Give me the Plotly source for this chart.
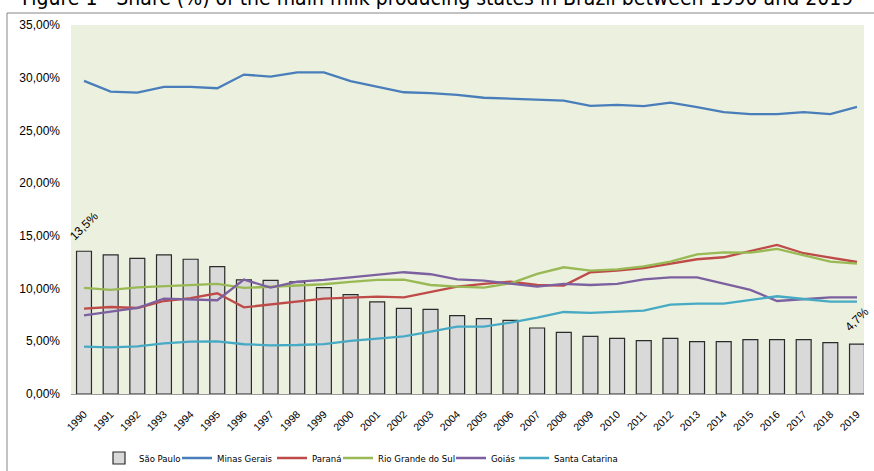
import plotly.graph_objects as go

years = list(range(1990, 2020))

sao_paulo = [13.54, 13.19, 12.87, 13.19, 12.78, 12.08, 10.82, 10.78, 10.63, 10.09,
             9.42, 8.73, 8.13, 8.03, 7.43, 7.15, 6.99, 6.26, 5.85, 5.47,
             5.28, 5.06, 5.28, 4.96, 4.96, 5.15, 5.15, 5.15, 4.87, 4.74]
minas_gerais = [29.70, 28.68, 28.59, 29.13, 29.13, 29.00, 30.30, 30.10, 30.50, 30.50,
                29.67, 29.15, 28.62, 28.53, 28.37, 28.10, 28.00, 27.90, 27.83, 27.32,
                27.42, 27.30, 27.64, 27.20, 26.73, 26.54, 26.54, 26.73, 26.54, 27.23]
parana = [8.10, 8.25, 8.16, 8.82, 9.10, 9.55, 8.22, 8.51, 8.79, 9.04,
          9.14, 9.24, 9.17, 9.71, 10.18, 10.44, 10.66, 10.34, 10.28, 11.55,
          11.70, 11.95, 12.36, 12.78, 12.97, 13.54, 14.14, 13.35, 12.90, 12.52]
rio_grande_do_sul = [10.06, 9.87, 10.12, 10.25, 10.34, 10.44, 10.06, 10.18, 10.28, 10.41,
                     10.63, 10.82, 10.85, 10.34, 10.18, 10.09, 10.50, 11.39, 12.02, 11.70,
                     11.83, 12.11, 12.55, 13.25, 13.44, 13.41, 13.76, 13.12, 12.55, 12.36]
goias = [7.46, 7.81, 8.16, 9.04, 8.98, 8.89, 10.85, 10.09, 10.66, 10.82,
         11.07, 11.32, 11.55, 11.36, 10.88, 10.75, 10.44, 10.18, 10.44, 10.34,
         10.44, 10.88, 11.07, 11.07, 10.47, 9.87, 8.82, 8.98, 9.17, 9.17]
santa_catarina = [4.49, 4.43, 4.52, 4.81, 4.96, 5.00, 4.72, 4.62, 4.65, 4.74,
                  5.03, 5.28, 5.47, 5.91, 6.39, 6.39, 6.77, 7.24, 7.78, 7.69,
                  7.78, 7.90, 8.47, 8.57, 8.57, 8.89, 9.27, 9.01, 8.76, 8.76]

y_ticks = [0, 5, 10, 15, 20, 25, 30, 35]
y_tick_labels = ["0,00%", "5,00%", "10,00%", "15,00%", "20,00%", "25,00%", "30,00%", "35,00%"]
labelled_years = [1990, 2019]

title_text = "Figure 1 - Share (%) of the main milk producing states in Brazil between 1990 and 2019"

line_series = [
    ("Minas Gerais", minas_gerais, "#4A7EBB"),
    ("Paraná", parana, "#BE4B48"),
    ("Rio Grande do Sul", rio_grande_do_sul, "#98B954"),
    ("Goiás", goias, "#7D60A0"),
    ("Santa Catarina", santa_catarina, "#46AAC5"),
]

# layout geometry (pixels)
W, H = 874, 471
PL, PR, PT, PB = 71, 864, 25, 394
pw, ph = PR - PL, PB - PT


def px_x(px):
    return (px - PL) / pw


def px_y(py):
    return (PB - py) / ph


NARROW = "Liberation Sans Narrow, DejaVu Sans Condensed, Liberation Sans"
legend_origins = [99, 177, 272, 338, 451, 514]
legend_keys = ["legend", "legend2", "legend3", "legend4", "legend5", "legend6"]

fig = go.Figure()
fig.add_trace(go.Bar(
    x=years, y=sao_paulo, name="São Paulo", width=0.56, legend=legend_keys[0],
    marker=dict(color="#D9D9D9", line=dict(color="#2b2b2b", width=1.2)),
))
for i, (name, vals, color) in enumerate(line_series):
    fig.add_trace(go.Scatter(
        x=years, y=vals, name=name, mode="lines", legend=legend_keys[i + 1],
        line=dict(color=color, width=2.3),
    ))

for yr in labelled_years:
    v = sao_paulo[years.index(yr)]
    fig.add_annotation(
        x=yr, y=v, text=f"{v:.1f}".replace(".", ",") + "%",
        showarrow=False, textangle=-45, yshift=25, xshift=0,
        font=dict(family="Liberation Sans", size=12, color="#000"),
    )

fig.add_annotation(
    xref="paper", yref="paper", x=px_x(W / 2), y=px_y(-2),
    text=title_text, showarrow=False, xanchor="center", yanchor="middle",
    font=dict(family=NARROW, size=21, color="#000"),
)

# outer chart frame
fig.add_shape(type="rect", xref="paper", yref="paper",
              x0=px_x(7), x1=1.03, y0=-0.25, y1=px_y(13),
              line=dict(color="#868686", width=1), fillcolor="rgba(0,0,0,0)", layer="below")

legend_layouts = {}
for key, ox in zip(legend_keys, legend_origins):
    legend_layouts[key] = dict(
        orientation="h", x=px_x(ox), xanchor="left", y=px_y(458), yanchor="middle",
        font=dict(family=NARROW, size=9.5, color="#000"),
        bgcolor="rgba(0,0,0,0)", borderwidth=0,
    )

fig.update_layout(
    width=W, height=H,
    margin=dict(l=PL, r=W - PR, t=PT, b=H - PB, autoexpand=False),
    paper_bgcolor="white",
    plot_bgcolor="#EBF1DE",
    showlegend=True,
    bargap=0.4,
    **legend_layouts,
)
fig.update_xaxes(
    range=[1989.512, 2019.263], tickmode="array", tickvals=years, ticktext=[str(y) for y in years],
    tickangle=-45, showgrid=False, zeroline=False, showline=True, linecolor="#9A9A9A", linewidth=1,
    ticks="", automargin=False, ticklabelstandoff=9,
    tickfont=dict(family="Liberation Sans", size=10.5, color="#000"),
)
fig.update_yaxes(
    range=[0, 35], tickmode="array", tickvals=y_ticks, ticktext=y_tick_labels,
    showgrid=False, zeroline=False, showline=False, ticks="", automargin=False,
    ticklabelstandoff=10,
    tickfont=dict(family="Liberation Sans", size=12, color="#000"),
)

fig.write_html(
    "out.html",
    config={"displayModeBar": False},
    post_script="document.body.style.margin='0px';document.body.style.overflow='hidden';",
)
